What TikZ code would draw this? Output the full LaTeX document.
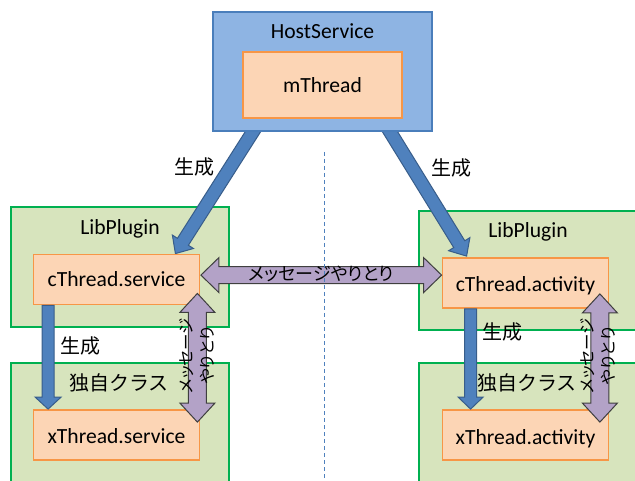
\documentclass[tikz,border=0pt]{standalone}
\usepackage{fontspec}
\setmainfont{Carlito}
\newfontfamily\jp{Noto Sans CJK JP}
\newfontfamily\jpp{Noto Sans CJK JP}[RawFeature=+palt]
\usetikzlibrary{calc}
\definecolor{hostfill}{HTML}{8EB4E3}
\definecolor{hostline}{HTML}{4A7EBB}
\definecolor{orfill}{HTML}{FCD5B5}
\definecolor{orline}{HTML}{F79646}
\definecolor{grfill}{HTML}{D7E4BD}
\definecolor{grline}{HTML}{00B050}
\definecolor{pufill}{HTML}{B3A2C7}
\definecolor{puline}{HTML}{3F3F3F}
\definecolor{blfill}{HTML}{4F81BD}
\definecolor{blline}{HTML}{385D8A}
\definecolor{dashcol}{HTML}{4F81BD}
% single block arrow: #1 style, #2 start, #3 tip, #4 shaft half, #5 head half, #6 head length
\newcommand\blockarrow[6][]{%
  \coordinate (bahead) at ($(#3)!#6!(#2)$);
  \draw[#1] ($(#2)!#4!90:(#3)$) -- ($(bahead)!#4!90:(#3)$) -- ($(bahead)!#5!90:(#3)$)
    -- (#3) -- ($(bahead)!#5!-90:(#3)$) -- ($(bahead)!#4!-90:(#3)$) -- ($(#2)!#4!-90:(#3)$) -- cycle;}
% double block arrow
\newcommand\dblarrow[6][]{%
  \coordinate (daheadA) at ($(#2)!#6!(#3)$);
  \coordinate (daheadB) at ($(#3)!#6!(#2)$);
  \draw[#1] (#2) -- ($(daheadA)!#5!90:(#3)$) -- ($(daheadA)!#4!90:(#3)$)
    -- ($(daheadB)!#4!90:(#3)$) -- ($(daheadB)!#5!90:(#3)$) -- (#3)
    -- ($(daheadB)!#5!-90:(#3)$) -- ($(daheadB)!#4!-90:(#3)$)
    -- ($(daheadA)!#4!-90:(#3)$) -- ($(daheadA)!#5!-90:(#3)$) -- cycle;}
\begin{document}
\begin{tikzpicture}[x=1pt,y=-1pt,
  greenbox/.style={draw=grline,fill=grfill,line width=1.8pt,rectangle,inner sep=0pt},
  orbox/.style={draw=orline,fill=orfill,line width=1.8pt,rectangle,inner sep=0pt,minimum width=166pt,minimum height=50pt},
  hostbox/.style={draw=hostline,fill=hostfill,line width=1.8pt,rectangle,inner sep=0pt},
  lat/.style={font=\fontsize{21.6}{25}\selectfont,inner sep=0pt,anchor=base},
  jlbl/.style={font=\jp\fontsize{20}{24}\selectfont,inner sep=0pt},
  bluearrow/.style={fill=blfill,draw=blline,line width=1pt,line join=miter},
  purparrow/.style={fill=pufill,draw=puline,line width=1pt,line join=miter},
  divider/.style={draw=dashcol,line width=0.8pt,dash pattern=on 4pt off 3pt}
]
\useasboundingbox (0,0) rectangle (635,481);
% green containers
\node[greenbox,minimum width=218pt,minimum height=120pt] (libL) at (120,267) {};
\node[greenbox,minimum width=222pt,minimum height=119pt] (libR) at (530,270.5) {};
\node[greenbox,minimum width=218pt,minimum height=127pt] (clsL) at (120,426.5) {};
\node[greenbox,minimum width=222pt,minimum height=127pt] (clsR) at (530,426.5) {};
% orange inner boxes
\node[orbox] (cs) at (116.5,279.5) {};
\node[orbox] (xs) at (116.5,435) {};
\node[orbox] (ca) at (525.5,283) {};
\node[orbox] (xa) at (525.5,435) {};
% host
\node[hostbox,minimum width=219pt,minimum height=119pt] (host) at (322.5,71.5) {};
% diagonal creation arrows (start hidden under host box)
\coordinate (dLs) at ($(host.south west)+(49,-13)$);
\coordinate (dLe) at ($(cs.north east)+(-25,0)$);
\coordinate (dRs) at ($(host.south west)+(170,-13)$);
\coordinate (dRe) at ($(ca.north west)+(25,-1)$);
\blockarrow[bluearrow]{dLs}{dLe}{6.5pt}{12.5pt}{14pt}
\blockarrow[bluearrow]{dRs}{dRe}{6.5pt}{12.5pt}{14pt}
% host box on top
\node[hostbox,minimum width=219pt,minimum height=119pt] (hostTop) at (host.center) {};
\node[draw=orline,fill=orfill,line width=1.8pt,inner sep=0pt,minimum width=159pt,minimum height=66pt] (mth) at (322.5,85) {};
\node[lat] (hostT) at (322.5,39) {HostService};
\node[lat] (mthT) at (mth.center |- 0,93) {mThread};
% redraw orange boxes above the diagonal arrows
\node[orbox] (cs2) at (cs.center) {};
\node[orbox] (ca2) at (ca.center) {};
% titles
\node[lat] (libLT) at (120,235) {LibPlugin};
\node[lat] (libRT) at (528,238) {LibPlugin};
\node[jlbl] (clsLT) at (119,383) {独自クラス};
\node[jlbl] (clsRT) at (527,383) {独自クラス};
\node[lat] (csT) at (116.5,287) {cThread.service};
\node[lat] (xsT) at (116.5,443) {xThread.service};
\node[lat] (caT) at (525.5,292) {cThread.activity};
\node[lat] (xaT) at (525.5,444) {xThread.activity};
% creation labels
\node[jlbl] (genDL) at (194,167) {生成};
\node[jlbl] (genDR) at (451,168) {生成};
\node[jlbl] (genVL) at (80,346) {生成};
\node[jlbl] (genVR) at (502,332) {生成};
% vertical creation arrows
\coordinate (vLs) at ($(cs.south west)+(15.5,0)$);
\coordinate (vLe) at ($(xs.north west)+(15.5,0)$);
\coordinate (vRs) at ($(ca.south west)+(29,0)$);
\coordinate (vRe) at ($(xa.north west)+(29,0)$);
\blockarrow[bluearrow]{vLs}{vLe}{6pt}{13pt}{12pt}
\blockarrow[bluearrow]{vRs}{vRe}{6pt}{12.5pt}{12pt}
% horizontal message arrow
\coordinate (mL) at ($(cs.north east)+(0.5,21.5)$);
\coordinate (mR) at (ca.west |- mL);
\dblarrow[purparrow]{mL}{mR}{8.5pt}{17.5pt}{18pt}
\node[font=\jpp\fontsize{18}{22}\selectfont,inner sep=0pt] (msgT) at ($(mL)!0.5!(mR)+(0,-1)$) {メッセージやりとり};
% vertical message arrows
\coordinate (qLs) at ($(cs.south east)+(-3,-12)$);
\coordinate (qLe) at ($(xs.north east)+(-3,13)$);
\coordinate (qRs) at ($(ca.south east)+(-9.5,-15)$);
\coordinate (qRe) at ($(xa.north east)+(-9.5,13)$);
\dblarrow[purparrow]{qLs}{qLe}{9pt}{17.5pt}{19pt}
\dblarrow[purparrow]{qRs}{qRe}{9pt}{17.5pt}{19pt}
\node[font=\jpp\fontsize{16.5}{21}\selectfont,inner sep=0pt,rotate=90,align=center] (qLT) at ($(qLs)!0.5!(qLe)+(-1,-2)$) {メッセージ\\やりとり};
\node[font=\jpp\fontsize{16.5}{21}\selectfont,inner sep=0pt,rotate=90,align=center] (qRT) at ($(qRs)!0.5!(qRe)+(-2,-2)$) {メッセージ\\やりとり};
% divider
\coordinate (dvT) at (324,152);
\coordinate (dvB) at (324,481);
\draw[divider] (dvT) -- (dvB);
\end{tikzpicture}
\end{document}
